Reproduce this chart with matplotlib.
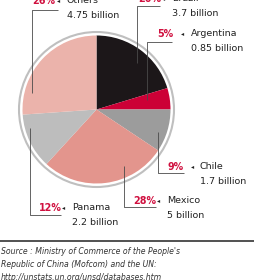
import matplotlib
matplotlib.use("Agg")
import matplotlib.pyplot as plt
from matplotlib.patches import Circle

# 数据（十亿美元），顺时针从顶部开始
names = ["Brazil", "Argentina", "Chile", "Mexico", "Panama", "Others"]
values = [3.7, 0.85, 1.7, 5, 2.2, 4.75]
pct_labels = ["20%", "5%", "9%", "28%", "12%", "26%"]
value_labels = ["3.7 billion", "0.85 billion", "1.7 billion", "5 billion", "2.2 billion", "4.75 billion"]
colors = ["#1c1719", "#cc0036", "#9c9c9c", "#e3958d", "#bdbdbd", "#ebb3ab"]

source_lines = [
    "Source : Ministry of Commerce of the People's",
    "Republic of China (Mofcom) and the UN:",
    "http://unstats.un.org/unsd/databases.htm",
]

# 标注位置（像素坐标）：百分比x, 箭头x, 名称x, 第一行y, 引线
label_layout = [
    (138, 164, 172, -1.5, [(160, 6), (137, 6), (137, 63)]),
    (157, 183, 191, 34, [(172, 42), (147, 42), (147, 100)]),
    (168, 193, 200, 166.5, [(184, 173), (158, 173), (158, 132)]),
    (133, 159, 167, 200.5, [(156, 207), (124, 207), (124, 166)]),
    (39, 64, 72, 208, [(61, 215), (30, 215), (30, 128)]),
    (32, 59, 67, 0.5, [(58, 10), (32, 10), (32, 93)]),
]

FONT = ["Liberation Sans Narrow", "DejaVu Sans"]
cx, cy, r = 96.5, 109.5, 74

fig = plt.figure(figsize=(2.55, 2.8), dpi=100)
ax = fig.add_axes([0, 0, 1, 1])

# y轴反转后，counterclock=True 在视觉上是顺时针
ax.pie(values, colors=colors, startangle=-90, counterclock=True,
       center=(cx, cy), radius=r, wedgeprops=dict(linewidth=0))
ax.add_patch(Circle((cx, cy), r + 3.5, fill=False, ec="#bfbfbf", lw=1.5))

for i, (px, ax_x, nx, y1, path) in enumerate(label_layout):
    xs, ys = zip(*path)
    ax.plot(xs, ys, color="#4a4a4a", lw=0.6, solid_capstyle="butt")
    ax.text(px, y1, pct_labels[i], color="#d0103f", fontsize=6.9, fontweight="bold",
            family=FONT, ha="left", va="center")
    ax.text(ax_x, y1, "\u25c2", color="#222222", fontsize=4.5, family=["DejaVu Sans"],
            ha="center", va="center")
    ax.text(nx, y1, names[i], color="#222222", fontsize=6.8, family=FONT,
            ha="left", va="center")
    ax.text(nx, y1 + 14.5, value_labels[i], color="#222222", fontsize=6.8, family=FONT,
            ha="left", va="center")

ax.plot([0, 255], [241, 241], color="#333333", lw=1.2)
for k, line in enumerate(source_lines):
    ax.text(1, 252 + k * 12.5, line, color="#333333", fontsize=5.6, style="italic",
            family=FONT, ha="left", va="center")

ax.set_xlim(0, 255)
ax.set_ylim(280, 0)
ax.set_aspect("equal")
ax.axis("off")

fig.savefig("out.png", dpi=100)
